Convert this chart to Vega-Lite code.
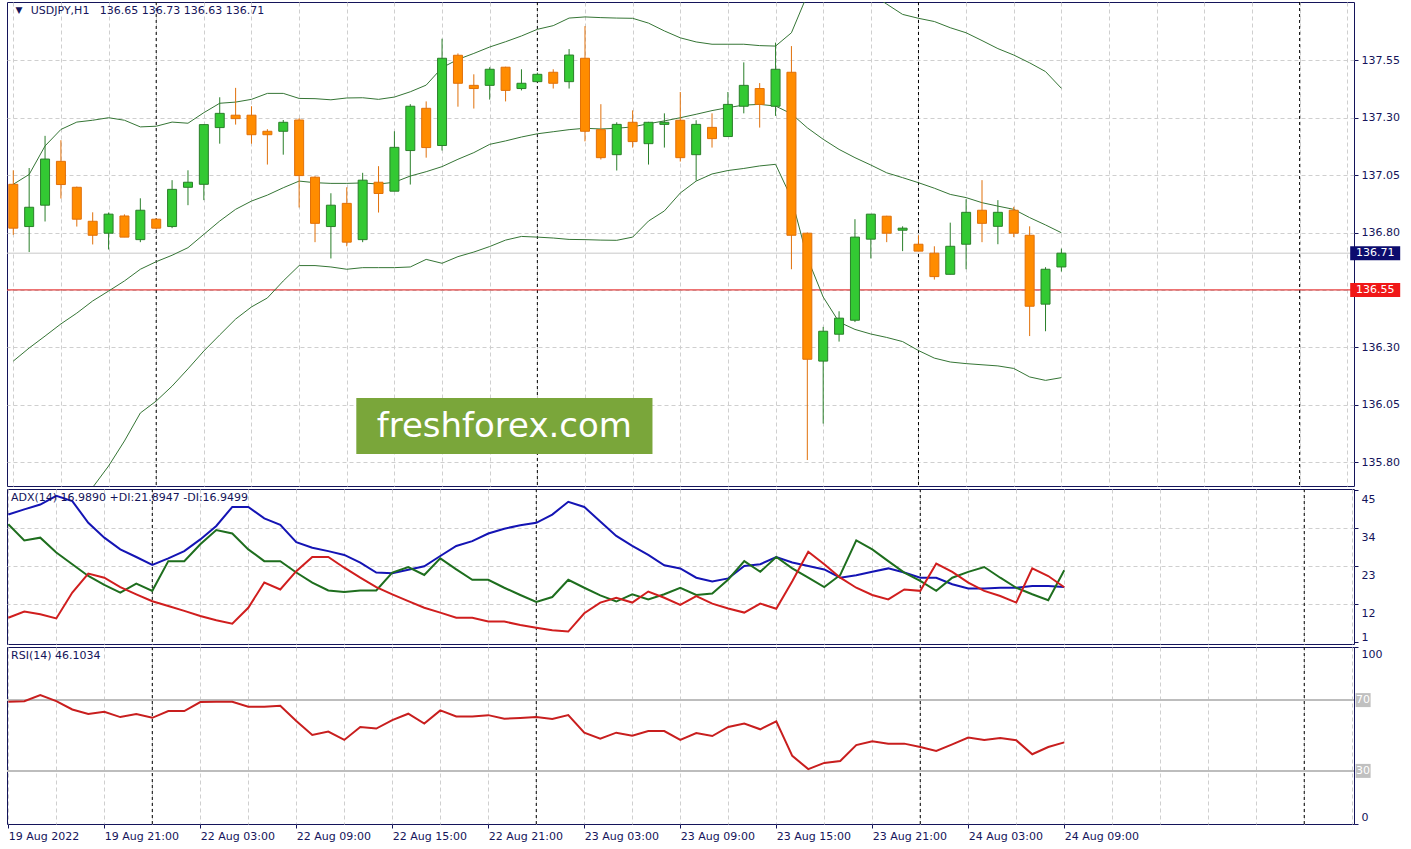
{
  "$schema": "https://vega.github.io/schema/vega-lite/v6.json",
  "background": "white",
  "padding": {"left": 5, "top": 1, "right": 0, "bottom": 0},
  "spacing": 3,
  "bounds": "flush",
  "config": {
    "view": {"stroke": "#14145a", "strokeWidth": 1},
    "font": "DejaVu Sans",
    "axis": {
      "labelFont": "DejaVu Sans", "labelFontSize": 11, "labelColor": "#14145a",
      "tickColor": "#14145a", "domainColor": "#14145a",
      "gridColor": "#cfcfcf", "gridDash": [4, 3], "gridWidth": 1,
      "title": null, "labelBound": false, "labelOverlap": false, "labelFlush": false
    }
  },
  "datasets": {
    "bars": [
      {"i":0,"o":137.010,"h":137.071,"l":136.790,"c":136.819,"u":137.010,"m":136.240,"b":135.450,"adx":38.0,"pdi":35.2,"mdi":8.1,"rsi":69.1},
      {"i":1,"o":136.826,"h":137.081,"l":136.715,"c":136.910,"u":137.053,"m":136.297,"b":135.500,"adx":39.5,"pdi":30.5,"mdi":9.9,"rsi":69.4},
      {"i":2,"o":136.919,"h":137.221,"l":136.848,"c":137.120,"u":137.177,"m":136.349,"b":135.540,"adx":40.9,"pdi":31.3,"mdi":9.1,"rsi":72.8},
      {"i":3,"o":137.110,"h":137.202,"l":136.948,"c":137.009,"u":137.249,"m":136.402,"b":135.580,"adx":43.4,"pdi":27.0,"mdi":7.9,"rsi":69.4},
      {"i":4,"o":136.997,"h":137.000,"l":136.826,"c":136.858,"u":137.281,"m":136.449,"b":135.630,"adx":41.9,"pdi":23.6,"mdi":15.4,"rsi":64.7},
      {"i":5,"o":136.849,"h":136.888,"l":136.748,"c":136.788,"u":137.289,"m":136.502,"b":135.690,"adx":35.6,"pdi":20.2,"mdi":20.9,"rsi":62.2},
      {"i":6,"o":136.797,"h":136.887,"l":136.726,"c":136.880,"u":137.300,"m":136.545,"b":135.783,"adx":31.3,"pdi":17.6,"mdi":19.7,"rsi":63.4},
      {"i":7,"o":136.872,"h":136.879,"l":136.780,"c":136.780,"u":137.289,"m":136.589,"b":135.892,"adx":27.9,"pdi":15.4,"mdi":17.0,"rsi":60.4},
      {"i":8,"o":136.769,"h":136.949,"l":136.758,"c":136.897,"u":137.260,"m":136.640,"b":136.014,"adx":25.7,"pdi":18.0,"mdi":14.9,"rsi":62.2},
      {"i":9,"o":136.858,"h":136.862,"l":136.815,"c":136.819,"u":137.263,"m":136.673,"b":136.066,"adx":23.4,"pdi":15.9,"mdi":12.9,"rsi":60.0},
      {"i":10,"o":136.826,"h":137.028,"l":136.819,"c":136.988,"u":137.281,"m":136.701,"b":136.131,"adx":25.3,"pdi":24.5,"mdi":11.5,"rsi":63.8},
      {"i":11,"o":136.997,"h":137.071,"l":136.919,"c":137.019,"u":137.276,"m":136.734,"b":136.206,"adx":27.4,"pdi":24.5,"mdi":10.1,"rsi":63.8},
      {"i":12,"o":137.010,"h":137.272,"l":136.941,"c":137.270,"u":137.322,"m":136.792,"b":136.284,"adx":30.8,"pdi":29.4,"mdi":8.6,"rsi":68.9},
      {"i":13,"o":137.257,"h":137.389,"l":137.187,"c":137.319,"u":137.363,"m":136.850,"b":136.354,"adx":34.7,"pdi":33.5,"mdi":7.4,"rsi":69.1},
      {"i":14,"o":137.311,"h":137.430,"l":137.270,"c":137.296,"u":137.368,"m":136.901,"b":136.423,"adx":40.2,"pdi":32.5,"mdi":6.4,"rsi":69.1},
      {"i":15,"o":137.311,"h":137.350,"l":137.187,"c":137.226,"u":137.380,"m":136.937,"b":136.476,"adx":40.2,"pdi":27.9,"mdi":11.0,"rsi":66.2},
      {"i":16,"o":137.241,"h":137.250,"l":137.096,"c":137.226,"u":137.406,"m":136.963,"b":136.515,"adx":36.9,"pdi":24.5,"mdi":18.3,"rsi":66.2},
      {"i":17,"o":137.241,"h":137.290,"l":137.139,"c":137.280,"u":137.406,"m":136.995,"b":136.589,"adx":35.0,"pdi":24.5,"mdi":16.3,"rsi":66.8},
      {"i":18,"o":137.290,"h":137.298,"l":136.909,"c":137.048,"u":137.384,"m":137.024,"b":136.656,"adx":30.0,"pdi":21.2,"mdi":21.6,"rsi":58.2},
      {"i":19,"o":137.041,"h":137.045,"l":136.758,"c":136.840,"u":137.383,"m":137.017,"b":136.656,"adx":28.4,"pdi":18.3,"mdi":25.7,"rsi":50.3},
      {"i":20,"o":136.826,"h":136.971,"l":136.687,"c":136.919,"u":137.378,"m":137.014,"b":136.650,"adx":27.4,"pdi":16.0,"mdi":25.7,"rsi":52.2},
      {"i":21,"o":136.927,"h":136.997,"l":136.740,"c":136.758,"u":137.386,"m":137.014,"b":136.640,"adx":26.3,"pdi":15.6,"mdi":22.6,"rsi":47.5},
      {"i":22,"o":136.769,"h":137.060,"l":136.758,"c":137.028,"u":137.387,"m":137.016,"b":136.647,"adx":24.1,"pdi":16.0,"mdi":19.7,"rsi":54.8},
      {"i":23,"o":137.019,"h":137.089,"l":136.887,"c":136.970,"u":137.380,"m":137.011,"b":136.647,"adx":21.2,"pdi":16.0,"mdi":17.0,"rsi":53.9},
      {"i":24,"o":136.980,"h":137.241,"l":136.980,"c":137.171,"u":137.390,"m":137.019,"b":136.647,"adx":21.0,"pdi":21.2,"mdi":14.9,"rsi":58.7},
      {"i":25,"o":137.157,"h":137.359,"l":137.009,"c":137.350,"u":137.413,"m":137.046,"b":136.650,"adx":22.0,"pdi":22.8,"mdi":12.9,"rsi":62.3},
      {"i":26,"o":137.341,"h":137.371,"l":137.126,"c":137.170,"u":137.442,"m":137.065,"b":136.683,"adx":23.0,"pdi":20.5,"mdi":11.0,"rsi":56.7},
      {"i":27,"o":137.179,"h":137.644,"l":137.157,"c":137.559,"u":137.518,"m":137.087,"b":136.666,"adx":26.0,"pdi":25.3,"mdi":9.6,"rsi":64.2},
      {"i":28,"o":137.572,"h":137.580,"l":137.348,"c":137.450,"u":137.554,"m":137.119,"b":136.695,"adx":28.9,"pdi":22.1,"mdi":8.1,"rsi":60.8},
      {"i":29,"o":137.441,"h":137.489,"l":137.340,"c":137.427,"u":137.580,"m":137.148,"b":136.715,"adx":30.3,"pdi":19.1,"mdi":8.1,"rsi":60.8},
      {"i":30,"o":137.441,"h":137.520,"l":137.379,"c":137.511,"u":137.608,"m":137.184,"b":136.739,"adx":32.5,"pdi":19.1,"mdi":7.0,"rsi":61.5},
      {"i":31,"o":137.520,"h":137.522,"l":137.371,"c":137.419,"u":137.631,"m":137.199,"b":136.767,"adx":33.9,"pdi":16.8,"mdi":7.0,"rsi":59.5},
      {"i":32,"o":137.427,"h":137.511,"l":137.419,"c":137.450,"u":137.656,"m":137.216,"b":136.783,"adx":34.9,"pdi":14.7,"mdi":6.0,"rsi":59.9},
      {"i":33,"o":137.457,"h":137.496,"l":137.457,"c":137.489,"u":137.685,"m":137.230,"b":136.780,"adx":35.6,"pdi":12.7,"mdi":5.2,"rsi":60.4},
      {"i":34,"o":137.498,"h":137.511,"l":137.427,"c":137.450,"u":137.701,"m":137.239,"b":136.776,"adx":38.0,"pdi":14.1,"mdi":4.5,"rsi":59.3},
      {"i":35,"o":137.457,"h":137.599,"l":137.427,"c":137.573,"u":137.734,"m":137.248,"b":136.770,"adx":41.7,"pdi":19.1,"mdi":4.1,"rsi":61.5},
      {"i":36,"o":137.559,"h":137.699,"l":137.197,"c":137.241,"u":137.739,"m":137.254,"b":136.769,"adx":40.2,"pdi":16.8,"mdi":9.4,"rsi":51.6},
      {"i":37,"o":137.248,"h":137.359,"l":137.118,"c":137.126,"u":137.736,"m":137.251,"b":136.767,"adx":36.0,"pdi":14.6,"mdi":12.5,"rsi":48.2},
      {"i":38,"o":137.139,"h":137.280,"l":137.070,"c":137.271,"u":137.734,"m":137.254,"b":136.766,"adx":31.8,"pdi":12.8,"mdi":13.9,"rsi":51.6},
      {"i":39,"o":137.280,"h":137.332,"l":137.170,"c":137.196,"u":137.733,"m":137.260,"b":136.780,"adx":28.9,"pdi":14.9,"mdi":12.5,"rsi":49.9},
      {"i":40,"o":137.187,"h":137.282,"l":137.096,"c":137.280,"u":137.712,"m":137.274,"b":136.850,"adx":26.3,"pdi":13.4,"mdi":15.7,"rsi":52.5},
      {"i":41,"o":137.271,"h":137.319,"l":137.170,"c":137.280,"u":137.678,"m":137.286,"b":136.894,"adx":23.3,"pdi":14.9,"mdi":13.9,"rsi":52.5},
      {"i":42,"o":137.289,"h":137.412,"l":137.109,"c":137.126,"u":137.648,"m":137.300,"b":136.972,"adx":22.4,"pdi":16.8,"mdi":11.8,"rsi":47.5},
      {"i":43,"o":137.139,"h":137.289,"l":137.026,"c":137.271,"u":137.630,"m":137.315,"b":137.024,"adx":19.7,"pdi":14.7,"mdi":14.4,"rsi":51.4},
      {"i":44,"o":137.258,"h":137.319,"l":137.170,"c":137.209,"u":137.620,"m":137.331,"b":137.055,"adx":18.6,"pdi":15.1,"mdi":12.2,"rsi":49.7},
      {"i":45,"o":137.218,"h":137.412,"l":137.218,"c":137.358,"u":137.620,"m":137.344,"b":137.070,"adx":19.5,"pdi":19.2,"mdi":10.8,"rsi":54.8},
      {"i":46,"o":137.350,"h":137.541,"l":137.319,"c":137.441,"u":137.620,"m":137.355,"b":137.079,"adx":23.1,"pdi":24.5,"mdi":9.6,"rsi":56.7},
      {"i":47,"o":137.427,"h":137.451,"l":137.257,"c":137.358,"u":137.614,"m":137.358,"b":137.090,"adx":23.6,"pdi":21.4,"mdi":12.2,"rsi":53.5},
      {"i":48,"o":137.350,"h":137.627,"l":137.308,"c":137.511,"u":137.612,"m":137.351,"b":137.097,"adx":25.7,"pdi":25.7,"mdi":10.7,"rsi":58.0},
      {"i":49,"o":137.498,"h":137.612,"l":136.640,"c":136.788,"u":137.670,"m":137.317,"b":136.950,"adx":24.1,"pdi":22.4,"mdi":18.7,"rsi":38.5},
      {"i":50,"o":136.797,"h":136.800,"l":135.809,"c":136.248,"u":137.835,"m":137.256,"b":136.690,"adx":23.1,"pdi":19.7,"mdi":27.2,"rsi":31.0},
      {"i":51,"o":136.240,"h":136.389,"l":135.968,"c":136.370,"u":137.893,"m":137.206,"b":136.519,"adx":22.1,"pdi":17.0,"mdi":23.6,"rsi":34.5},
      {"i":52,"o":136.357,"h":136.457,"l":136.325,"c":136.427,"u":137.914,"m":137.162,"b":136.410,"adx":19.7,"pdi":20.5,"mdi":19.7,"rsi":35.6},
      {"i":53,"o":136.418,"h":136.858,"l":136.410,"c":136.780,"u":137.874,"m":137.126,"b":136.378,"adx":20.4,"pdi":30.5,"mdi":16.8,"rsi":44.6},
      {"i":54,"o":136.771,"h":136.880,"l":136.687,"c":136.880,"u":137.840,"m":137.094,"b":136.358,"adx":21.4,"pdi":27.9,"mdi":14.7,"rsi":46.7},
      {"i":55,"o":136.871,"h":136.873,"l":136.758,"c":136.797,"u":137.795,"m":137.060,"b":136.343,"adx":22.4,"pdi":24.5,"mdi":13.4,"rsi":45.4},
      {"i":56,"o":136.810,"h":136.827,"l":136.719,"c":136.819,"u":137.750,"m":137.039,"b":136.325,"adx":21.2,"pdi":21.2,"mdi":16.3,"rsi":45.4},
      {"i":57,"o":136.749,"h":136.788,"l":136.719,"c":136.719,"u":137.733,"m":137.017,"b":136.286,"adx":19.7,"pdi":18.8,"mdi":15.9,"rsi":43.5},
      {"i":58,"o":136.710,"h":136.740,"l":136.595,"c":136.608,"u":137.719,"m":136.993,"b":136.253,"adx":19.7,"pdi":15.9,"mdi":23.8,"rsi":41.3},
      {"i":59,"o":136.618,"h":136.843,"l":136.618,"c":136.740,"u":137.692,"m":136.966,"b":136.236,"adx":17.8,"pdi":19.7,"mdi":21.4,"rsi":45.0},
      {"i":60,"o":136.749,"h":136.945,"l":136.640,"c":136.888,"u":137.670,"m":136.952,"b":136.229,"adx":16.6,"pdi":21.4,"mdi":18.3,"rsi":48.8},
      {"i":61,"o":136.897,"h":137.028,"l":136.758,"c":136.840,"u":137.636,"m":136.930,"b":136.224,"adx":16.6,"pdi":22.8,"mdi":15.9,"rsi":47.5},
      {"i":62,"o":136.827,"h":136.941,"l":136.749,"c":136.888,"u":137.601,"m":136.915,"b":136.219,"adx":16.8,"pdi":19.7,"mdi":14.4,"rsi":48.6},
      {"i":63,"o":136.897,"h":136.912,"l":136.780,"c":136.797,"u":137.573,"m":136.901,"b":136.208,"adx":16.8,"pdi":16.8,"mdi":12.5,"rsi":47.3},
      {"i":64,"o":136.788,"h":136.827,"l":136.349,"c":136.479,"u":137.539,"m":136.865,"b":136.171,"adx":17.3,"pdi":14.9,"mdi":22.4,"rsi":39.4},
      {"i":65,"o":136.488,"h":136.649,"l":136.370,"c":136.640,"u":137.501,"m":136.833,"b":136.156,"adx":17.3,"pdi":13.2,"mdi":20.2,"rsi":43.5},
      {"i":66,"o":136.650,"h":136.730,"l":136.630,"c":136.710,"u":137.428,"m":136.799,"b":136.168,"adx":16.99,"pdi":21.89,"mdi":16.95,"rsi":46.1}
    ],
    "days": [{"i": 9}, {"i": 33}, {"i": 57}, {"i": 81}],
    "levels": [{"kind": "bid", "p": 136.71, "name": "136.71"}, {"kind": "alert", "p": 136.55, "name": "136.55"}],
    "rsilev": [{"v": 70, "name": "70"}, {"v": 30, "name": "30"}]
  },
  "vconcat": [
    {
      "width": 1347,
      "height": 484,
      "layer": [
        {
          "data": {"name": "days"},
          "mark": {"type": "rule", "color": "#000000", "strokeDash": [3, 3], "strokeWidth": 1},
          "encoding": {
            "x": {"field": "i", "type": "quantitative",
              "scale": {"domain": [-0.081, 84.11], "nice": false, "zero": false},
              "axis": {"values": [0,3,6,9,12,15,18,21,24,27,30,33,36,39,42,45,48,51,54,57,60,63,66,69,72,75,78,81,84],
                "tickCount": 40, "labels": false, "ticks": false, "domain": false, "grid": true, "title": null}}
          }
        },
        {
          "data": {"name": "levels"},
          "mark": {"type": "rule", "strokeWidth": 1},
          "encoding": {
            "y": {"field": "p", "type": "quantitative",
              "scale": {"domain": [135.696, 137.804], "nice": false, "zero": false},
              "axis": {"orient": "right", "values": [135.8, 136.05, 136.3, 136.55, 136.8, 137.05, 137.3, 137.55],
                "tickCount": 20,
                "labelExpr": "abs(datum.value - 136.55) < 0.001 ? '' : format(datum.value, '.2f')",
                "labelOverlap": false,
                "tickSize": 4, "labelPadding": 3, "domain": false, "grid": true, "title": null}},
            "color": {"condition": {"test": "datum.kind === 'alert'", "value": "#e01414"}, "value": "#c8c8c8"}
          }
        },
        {
          "data": {"name": "bars"},
          "layer": [
            {"mark": {"type": "line", "color": "#357535", "strokeWidth": 1, "clip": true},
             "encoding": {"x": {"field": "i", "type": "quantitative"}, "y": {"field": "u", "type": "quantitative"}}},
            {"mark": {"type": "line", "color": "#357535", "strokeWidth": 1, "clip": true},
             "encoding": {"x": {"field": "i", "type": "quantitative"}, "y": {"field": "m", "type": "quantitative"}}},
            {"mark": {"type": "line", "color": "#357535", "strokeWidth": 1, "clip": true},
             "encoding": {"x": {"field": "i", "type": "quantitative"}, "y": {"field": "b", "type": "quantitative"}}},
            {"mark": {"type": "rule", "strokeWidth": 1, "clip": true},
             "encoding": {"x": {"field": "i", "type": "quantitative"},
               "y": {"field": "l", "type": "quantitative"}, "y2": {"field": "h"},
               "color": {"condition": {"test": "datum.c >= datum.o", "value": "#2a7f2a"}, "value": "#e0700a"}}},
            {"mark": {"type": "bar", "size": 9, "strokeWidth": 1, "clip": true},
             "encoding": {"x": {"field": "i", "type": "quantitative"},
               "y": {"field": "o", "type": "quantitative"}, "y2": {"field": "c"},
               "fill": {"condition": {"test": "datum.c >= datum.o", "value": "#33c933"}, "value": "#ff8c00"},
               "stroke": {"condition": {"test": "datum.c >= datum.o", "value": "#2a7f2a"}, "value": "#e0700a"}}}
          ]
        },
        {
          "data": {"values": [{"t": "freshforex.com"}]},
          "layer": [
            {"mark": {"type": "rect", "color": "#7aa63a"},
             "encoding": {"x": {"datum": 21.6, "type": "quantitative"}, "x2": {"datum": 40.25},
               "y": {"datum": 136.079, "type": "quantitative"}, "y2": {"datum": 135.835}}},
            {"mark": {"type": "text", "color": "#ffffff", "font": "DejaVu Sans", "fontSize": 34, "align": "center", "baseline": "middle"},
             "encoding": {"x": {"datum": 30.92, "type": "quantitative"}, "y": {"datum": 135.955, "type": "quantitative"}, "text": {"field": "t"}}}
          ]
        },
        {
          "data": {"values": [{"t": "USDJPY,H1\u00a0\u00a0 136.65 136.73 136.63 136.71", "a": "▼"}]},
          "layer": [
            {"mark": {"type": "text", "color": "#14145a", "fontSize": 9, "align": "center", "baseline": "middle"},
             "encoding": {"x": {"datum": 0.36, "type": "quantitative"}, "y": {"datum": 137.768, "type": "quantitative"}, "text": {"field": "a"}}},
            {"mark": {"type": "text", "color": "#14145a", "fontSize": 11, "align": "left", "baseline": "middle"},
             "encoding": {"x": {"datum": 1.1, "type": "quantitative"}, "y": {"datum": 137.765, "type": "quantitative"}, "text": {"field": "t"}}}
          ]
        },
        {
          "data": {"name": "levels"},
          "layer": [
            {"mark": {"type": "tick", "orient": "horizontal", "size": 50, "thickness": 14, "opacity": 1, "clip": false},
             "encoding": {"x": {"datum": 85.76, "type": "quantitative"}, "y": {"field": "p", "type": "quantitative"},
               "color": {"condition": {"test": "datum.kind === 'alert'", "value": "#f01818"}, "value": "#0c0c6e"}}},
            {"mark": {"type": "text", "color": "#ffffff", "fontSize": 11, "align": "center", "baseline": "middle", "clip": false},
             "encoding": {"x": {"datum": 85.76, "type": "quantitative"}, "y": {"field": "p", "type": "quantitative"}, "text": {"field": "name"}}}
          ]
        }
      ]
    },
    {
      "width": 1347,
      "height": 155,
      "layer": [
        {
          "data": {"name": "days"},
          "mark": {"type": "rule", "color": "#000000", "strokeDash": [3, 3], "strokeWidth": 1},
          "encoding": {
            "x": {"field": "i", "type": "quantitative",
              "scale": {"domain": [-0.081, 84.11], "nice": false, "zero": false},
              "axis": {"values": [0,3,6,9,12,15,18,21,24,27,30,33,36,39,42,45,48,51,54,57,60,63,66,69,72,75,78,81,84],
                "tickCount": 40, "labels": false, "ticks": false, "domain": false, "grid": true, "title": null}}
          }
        },
        {
          "data": {"name": "bars"},
          "layer": [
            {"mark": {"type": "line", "color": "#1414b4", "strokeWidth": 2, "clip": true},
             "encoding": {"x": {"field": "i", "type": "quantitative"},
               "y": {"field": "adx", "type": "quantitative",
                 "scale": {"domain": [0.5, 45.4], "nice": false, "zero": false},
                 "axis": {"orient": "right", "values": [1, 12, 23, 34, 45], "tickCount": 10, "tickSize": 4, "labelPadding": 3,
                   "labelOverlap": false,
                   "domain": false, "grid": true, "title": null,
                   "gridOpacity": {"condition": {"test": "datum.value > 5 && datum.value < 40", "value": 1}, "value": 0},
                   "labelBaseline": {"condition": {"test": "datum.value < 5", "value": "bottom"}, "value": "top"},
                   "labelOffset": {"condition": {"test": "datum.value < 5", "value": 0}, "value": 3}}}}},
            {"mark": {"type": "line", "color": "#1e6e1e", "strokeWidth": 2, "clip": true},
             "encoding": {"x": {"field": "i", "type": "quantitative"}, "y": {"field": "pdi", "type": "quantitative"}}},
            {"mark": {"type": "line", "color": "#d01e1e", "strokeWidth": 2, "clip": true},
             "encoding": {"x": {"field": "i", "type": "quantitative"}, "y": {"field": "mdi", "type": "quantitative"}}}
          ]
        },
        {
          "data": {"values": [{"t": "ADX(14) 16.9890 +DI:21.8947 -DI:16.9499"}]},
          "mark": {"type": "text", "color": "#14145a", "fontSize": 11, "align": "left", "baseline": "middle"},
          "encoding": {"x": {"datum": 0.17, "type": "quantitative"}, "y": {"datum": 42.7, "type": "quantitative"}, "text": {"field": "t"}}
        }
      ]
    },
    {
      "width": 1347,
      "height": 177,
      "layer": [
        {
          "data": {"name": "days"},
          "mark": {"type": "rule", "color": "#000000", "strokeDash": [3, 3], "strokeWidth": 1},
          "encoding": {
            "x": {"field": "i", "type": "quantitative",
              "scale": {"domain": [-0.081, 84.11], "nice": false, "zero": false},
              "axis": {"values": [0,3,6,9,12,15,18,21,24,27,30,33,36,39,42,45,48,51,54,57,60,63,66,69,72,75,78,81,84],
                "tickCount": 40,
                "labelExpr": "datum.value % 6 === 0 && datum.value <= 66 ? ['19 Aug 2022','19 Aug 21:00','22 Aug 03:00','22 Aug 09:00','22 Aug 15:00','22 Aug 21:00','23 Aug 03:00','23 Aug 09:00','23 Aug 15:00','23 Aug 21:00','24 Aug 03:00','24 Aug 09:00'][datum.value / 6] : ''",
                "labelAlign": "left", "labelPadding": 2, "tickSize": 4, "labelOverlap": false,
                "tickOpacity": {"condition": {"test": "datum.value % 6 === 0 && datum.value <= 66", "value": 1}, "value": 0},
                "domain": false, "grid": true, "title": null}}
          }
        },
        {
          "data": {"name": "rsilev"},
          "layer": [
            {"mark": {"type": "rule", "color": "#bdbdbd", "strokeWidth": 2},
             "encoding": {"y": {"field": "v", "type": "quantitative",
               "scale": {"domain": [0, 100], "nice": false},
               "axis": {"orient": "right", "values": [0, 100], "tickCount": 10, "tickSize": 4, "labelPadding": 3, "domain": false, "grid": false, "title": null,
                 "labelOverlap": false,
                 "labelBaseline": {"condition": {"test": "datum.value < 5", "value": "bottom"}, "value": "top"},
                 "labelOffset": {"condition": {"test": "datum.value < 5", "value": -2}, "value": 1}}}}},
            {"mark": {"type": "tick", "orient": "horizontal", "size": 15, "thickness": 14, "color": "#c0c0c0", "opacity": 1, "clip": false},
             "encoding": {"x": {"datum": 84.68, "type": "quantitative"}, "y": {"field": "v", "type": "quantitative"}}},
            {"mark": {"type": "text", "color": "#ffffff", "fontSize": 11, "align": "center", "baseline": "middle", "clip": false},
             "encoding": {"x": {"datum": 84.68, "type": "quantitative"}, "y": {"field": "v", "type": "quantitative"}, "text": {"field": "name"}}}
          ]
        },
        {
          "data": {"name": "bars"},
          "mark": {"type": "line", "color": "#c81e1e", "strokeWidth": 2, "clip": true},
          "encoding": {"x": {"field": "i", "type": "quantitative"}, "y": {"field": "rsi", "type": "quantitative"}}
        },
        {
          "data": {"values": [{"t": "RSI(14) 46.1034"}]},
          "mark": {"type": "text", "color": "#14145a", "fontSize": 11, "align": "left", "baseline": "middle"},
          "encoding": {"x": {"datum": 0.17, "type": "quantitative"}, "y": {"datum": 94.8, "type": "quantitative"}, "text": {"field": "t"}}
        }
      ]
    }
  ]
}
